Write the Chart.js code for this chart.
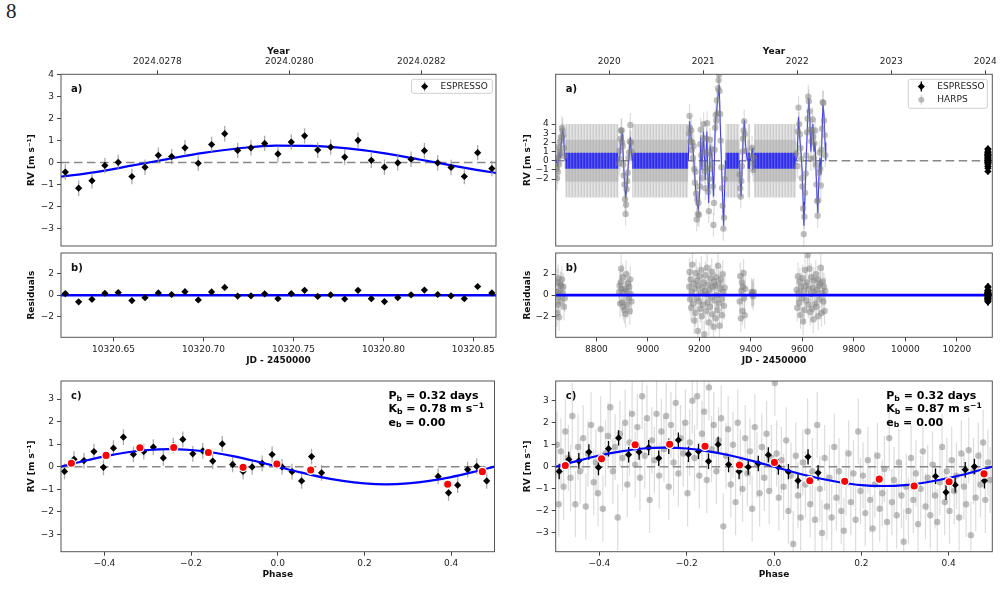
<!DOCTYPE html>
<html>
<head>
<meta charset="utf-8">
<script src="https://cdn.jsdelivr.net/npm/chart.js@4.4.1/dist/chart.umd.min.js"></script>
<style>
  html, body { margin: 0; padding: 0; background: #fff; }
  #page { position: relative; width: 1002px; height: 605px; overflow: hidden; background: #fff; }
  #page canvas { position: absolute; }
  #pageno { position: absolute; left: 6px; top: 1px; font: 21px/21px "Liberation Serif", serif; color: #222; }
</style>
</head>
<body>
<div id="page">
  <div id="pageno">8</div>
  <canvas id="la" width="500" height="210" style="left:0;top:40px"></canvas>
  <canvas id="lb" width="500" height="120" style="left:0;top:249px"></canvas>
  <canvas id="lc" width="500" height="215" style="left:0;top:370px"></canvas>
  <canvas id="ra" width="502" height="210" style="left:500px;top:40px"></canvas>
  <canvas id="rb" width="502" height="120" style="left:500px;top:249px"></canvas>
  <canvas id="rc" width="502" height="215" style="left:500px;top:370px"></canvas>
</div>
<script>
// ---------- ESPRESSO (one night) ----------
const espJD = [10320.6232, 10320.6306, 10320.6380, 10320.6452, 10320.6526, 10320.6602, 10320.6675,
  10320.6749, 10320.6823, 10320.6897, 10320.6971, 10320.7045, 10320.7118, 10320.7190, 10320.7264,
  10320.7340, 10320.7414, 10320.7488, 10320.7562, 10320.7635, 10320.7707, 10320.7785, 10320.7859,
  10320.7933, 10320.8006, 10320.8080, 10320.8154, 10320.8228, 10320.8302, 10320.8376, 10320.8450,
  10320.8524, 10320.8603];
const espRV = [-0.43, -1.16, -0.82, -0.13, 0.01, -0.63, -0.21, 0.33, 0.27, 0.67, -0.03, 0.82, 1.31,
  0.55, 0.67, 0.87, 0.39, 0.93, 1.21, 0.57, 0.70, 0.25, 1.01, 0.10, -0.21, -0.01, 0.15, 0.54, -0.01,
  -0.22, -0.63, 0.45, -0.27];
const espRes = [0.15, -0.63, -0.39, 0.18, 0.24, -0.51, -0.24, 0.21, 0.06, 0.33, -0.45, 0.30, 0.72,
  -0.09, -0.06, 0.12, -0.33, 0.15, 0.45, -0.12, 0.03, -0.36, 0.45, -0.33, -0.60, -0.24, 0.03, 0.48,
  0.06, -0.06, -0.33, 0.81, 0.21];
const espPhase = [0.370, 0.394, 0.415, 0.438, 0.459, 0.482, -0.492, -0.470, -0.447, -0.424, -0.402,
  -0.379, -0.356, -0.333, -0.309, -0.287, -0.264, -0.241, -0.219, -0.196, -0.173, -0.150, -0.128,
  -0.104, -0.080, -0.059, -0.036, -0.013, 0.010, 0.033, 0.055, 0.078, 0.101];
const espErr = 0.35;

// keplerian model over the ESPRESSO night
const modelJD = [10320.61, 10320.62, 10320.64, 10320.66, 10320.68, 10320.70, 10320.72, 10320.74,
  10320.76, 10320.78, 10320.80, 10320.82, 10320.84, 10320.86, 10320.87];
const modelRV = [-0.72, -0.64, -0.43, -0.14, 0.16, 0.44, 0.65, 0.77, 0.76, 0.64, 0.43, 0.14, -0.16, -0.44, -0.56];

// phase-folded model and binned points
const phaseGrid = [-0.5, -0.45, -0.4, -0.35, -0.3, -0.25, -0.2, -0.15, -0.1, -0.05, 0, 0.05, 0.1,
  0.15, 0.2, 0.25, 0.3, 0.35, 0.4, 0.45, 0.5];
const phaseModelL = [0, 0.24, 0.46, 0.63, 0.74, 0.78, 0.74, 0.63, 0.46, 0.24, 0, -0.24, -0.46, -0.63,
  -0.74, -0.78, -0.74, -0.63, -0.46, -0.24, 0];
const phaseModelR = [0, 0.27, 0.51, 0.70, 0.83, 0.87, 0.83, 0.70, 0.51, 0.27, 0, -0.27, -0.51, -0.70,
  -0.83, -0.87, -0.83, -0.70, -0.51, -0.27, 0];
const binPhaseL = [-0.476, -0.396, -0.318, -0.240, -0.160, -0.080, -0.002, 0.076, 0.392, 0.472];
const binRVL = [0.15, 0.50, 0.84, 0.85, 0.63, -0.03, 0.12, -0.15, -0.78, -0.22];
const binPhaseR = [-0.478, -0.395, -0.318, -0.239, -0.158, -0.079, 0.001, 0.082, 0.162, 0.241, 0.321, 0.401, 0.481];
const binRVR = [0.06, 0.36, 1.00, 1.02, 0.93, 0.08, 0.20, -0.63, -0.66, -0.56, -0.87, -0.68, -0.32];

// ---------- HARPS ----------
const harpsJD = [
  8646.2, 8647.1, 8649.0, 8650.3, 8652.1, 8653.4, 8655.2, 8657.0, 8659.3, 8661.1, 8663.2, 8666.4, 8669.1, 8671.3, 8674.2, 8677.0,
  8888.3, 8890.1, 8892.0, 8894.2, 8896.0, 8898.1, 8900.4, 8902.3, 8904.5, 8906.7, 8909.0, 8911.2, 8913.5, 8915.2, 8917.4, 8919.6,
  8922.0, 8924.8, 8927.3, 8929.6, 8931.8, 8934.0, 8936.5,
  9160.1, 9161.8, 9163.5, 9166.0, 9168.2, 9170.5, 9173.1, 9175.4, 9177.8, 9180.2, 9182.5, 9184.9, 9187.1, 9189.6, 9191.8, 9194.0,
  9196.3, 9198.7, 9200.9, 9203.2, 9205.4, 9207.6, 9209.9, 9212.1, 9214.4, 9216.6, 9218.9, 9221.1, 9223.3, 9225.6, 9227.8, 9230.1,
  9232.3, 9234.6, 9236.8, 9239.0, 9241.3, 9243.5, 9245.8, 9248.0, 9250.2, 9252.5, 9254.7, 9256.9, 9259.2, 9261.4, 9263.7, 9265.9,
  9268.1, 9270.4, 9272.6, 9274.8, 9276.5, 9278.3, 9280.5, 9283.0, 9285.6, 9288.1, 9290.7, 9293.2, 9295.8, 9298.4,
  9356.5, 9358.7, 9360.9, 9363.0, 9365.2, 9367.4, 9369.6, 9371.8, 9374.0, 9376.1, 9378.3, 9402.5, 9404.6, 9406.8, 9409.0, 9411.2,
  9577.5, 9580.2, 9582.9, 9585.1, 9587.6, 9590.2, 9592.8, 9595.3, 9597.9, 9600.4, 9603.0, 9605.5, 9607.9, 9610.4, 9612.9, 9615.4,
  9617.9, 9620.4, 9622.9, 9625.2, 9627.6, 9630.0, 9632.5, 9634.9, 9637.4, 9639.8, 9642.3, 9644.7, 9647.2, 9649.6, 9652.1, 9654.5,
  9657.0, 9659.4, 9661.9, 9664.3, 9666.8, 9669.2, 9671.7, 9674.1, 9676.6, 9679.0, 9681.5, 9683.9, 9686.4, 9688.8];
const harpsRV = [
  -0.8, -1.9, 0.4, -1.2, 1.5, 0.3, -0.4, 1.0, 2.1, 0.8, 2.6, 3.6, 3.3, 2.8, 1.4, 0.5,
  -0.3, 1.1, 0.2, 2.4, 3.3, 3.3, 2.0, 1.6, -0.4, -1.6, -2.6, -4.2, -5.8, -4.8, -3.1, -2.2, -1.3, 0.3, 0.9, 2.1, 3.9, 2.0, 1.0,
  3.0, 4.9, 3.6, 2.1, 3.3, 1.2, 2.0, 0.3, 1.6, -0.9, -2.4, -1.2, -3.6, -6.4, -4.2, -5.8, -4.6, -5.9, -2.8, 1.8,
  3.4, 0.6, -1.9, -0.3, 2.5, 4.0, 1.0, -1.2, -3.0, -0.8, 2.4, 4.1, 0.9, -3.4, -5.5, -2.0, 2.3, 0.7, -0.9, 1.3,
  -0.4, -2.8, -7.0, -4.6, 1.2, 3.6, 5.0, 4.4, 6.6, 5.2, 7.9, 8.8, 9.4, 7.6, 5.1, 2.2, -0.7, -3.0, -4.9, -7.4, -6.2, -2.0,
  -1.5, -3.0, -3.9, -2.2, -0.6, 1.0, 2.4, 3.3, 4.3, 2.9, 1.1, 0.5, 1.4, -0.3, -1.0, 0.3,
  0.8, -0.6, 3.2, 5.8, 4.0, 2.9, 1.4, 0.2, -1.9, -2.8, -5.2, -8.0, -6.1, -3.5, -1.4, 0.6, 3.1, 4.6, 7.0, 6.5,
  5.4, 3.4, 0.2, 2.1, 3.3, 4.5, 2.6, 0.3, 1.9, 3.3, -0.4, -2.6, -4.4, -6.0, -4.3, -1.3, 0.9, -0.9, -2.7, 1.2,
  3.5, 6.4, 6.3, 4.4, 2.8, 0.6];
const harpsRes = [
  0.3, -1.7, 1.2, -0.9, 1.6, -0.2, -2.1, 0.4, 1.0, -0.6, 0.9, 1.5, 0.2, 0.8, -1.1, -0.3,
  0.3, 0.9, -0.8, 1.2, 2.5, 0.6, -0.7, 1.7, -1.1, 0.3, -1.4, 0.6, -1.8, 2.0, 0.4, -0.9, 1.1, -0.3, 0.8, -1.5, 1.5, 0.1, -0.6,
  0.8, 2.2, -0.4, 1.5, -1.2, 0.3, 2.9, -0.8, 1.1, -2.4, 0.6, -1.7, 2.1, -0.3, 1.4, -3.4, 0.9, -0.6, 1.8, -1.3,
  0.2, 2.4, -2.0, 0.7, -0.9, 1.2, -3.7, 0.4, 1.9, -1.5, 0.1, 2.6, -0.7, 1.0, -2.6, 0.5, -1.1, 1.6, -0.2, 2.2,
  -1.8, 0.8, -3.0, 1.3, -0.5, 0.9, -2.2, 1.7, 0.0, -1.4, 2.8, -0.8, 1.1, -2.9, 0.6, 1.5, -0.4, -1.9, 2.0, 0.3, -1.0, 0.7,
  -0.6, 1.8, -2.2, 0.4, 1.2, -1.5, 0.8, 2.1, -0.3, -1.9, 0.6, 0.3, 0.1, 0.2, -0.1, 0.3,
  0.5, -1.2, 1.8, 0.2, -0.7, 1.3, -1.9, 0.8, -0.3, 1.6, -2.5, 0.4, -1.4, 2.4, 0.9, -0.5, 1.2, 3.8, -0.9, 0.6,
  2.5, -1.6, 0.1, 1.7, -1.3, 0.7, -2.3, 1.4, 0.3, -0.8, 2.0, -1.1, 0.5, 1.5, -2.0, 0.9, -0.4, 1.1, 2.6, -1.7,
  0.2, 1.3, -0.6, 0.8, -1.5, 0.4];
const harpsErr = 1.3;

// GP + planet model inside the HARPS seasons (null = break)
const gpJD = [8643, 8647, 8650, 8653, 8656, 8659, 8662, 8665, 8668, 8670, 8672, 8674, 8676, 8679, 8700,
  8886, 8891, 8896, 8900, 8903, 8907, 8911, 8914, 8919, 8923, 8927, 8932, 8935, 8939, 9000,
  9157, 9162, 9168, 9176, 9183, 9190, 9196, 9201, 9205, 9210, 9216, 9223, 9229, 9236, 9242, 9249,
  9255, 9262, 9268, 9274, 9277, 9281, 9288, 9294, 9301, 9330,
  9356, 9358, 9362, 9366, 9370, 9375, 9380, 9386, 9390, 9398, 9402, 9405, 9408, 9412, 9500,
  9575, 9580, 9585, 9590, 9595, 9599, 9603, 9606, 9610, 9614, 9618, 9622, 9625, 9629, 9633, 9637,
  9641, 9645, 9649, 9653, 9657, 9660, 9664, 9668, 9672, 9676, 9680, 9684, 9688, 9691];
const gpRV = [0.2, -0.3, -0.6, 0.2, 0.7, 0.4, 1.5, 2.2, 3.2, 3.4, 2.8, 1.9, 0.9, 0.0, null,
  0.0, 0.5, 2.2, 2.9, 1.4, -1.1, -3.0, -3.9, -2.8, -0.8, 0.6, 2.6, 1.2, 0.0, null,
  0.0, 4.3, 2.5, 1.1, -2.1, -4.6, -5.3, -3.5, 2.5, -1.0, 3.2, -2.1, 3.2, -4.6, 1.5, 0.4,
  -3.9, 4.3, 5.7, 7.5, 8.3, 4.0, -2.1, -7.1, 0.0, null,
  0.0, -1.9, -3.9, -0.8, 2.5, 4.4, 1.5, 0.0, null, 0.0, 0.6, 1.4, -1.0, 0.0, null,
  0.0, 0.5, 4.8, 2.5, 0.8, -1.0, -4.5, -7.1, -4.0, -0.5, 2.5, 5.5, 6.8, 4.5, 1.0, 3.0,
  4.0, 1.0, 2.0, -1.0, -4.0, -5.7, -2.0, 0.3, -1.5, 2.5, 6.1, 5.0, 2.0, 0.0];
// stretches without data: model band and its uncertainty
const gapStart = [8679, 8939, 9301, 9386, 9412];
const gapEnd = [8886, 9157, 9356, 9398, 9575];
const bandOuter = 4.0, bandInner = 2.3, bandK = 0.87;

// HARPS phase-folded
const harpsPh = [
  -0.497, -0.493, -0.488, -0.482, -0.478, -0.471, -0.466, -0.462, -0.455, -0.449, -0.444, -0.437, -0.431, -0.426, -0.419, -0.413, -0.408, -0.403,
  -0.397, -0.392, -0.386, -0.380, -0.375, -0.369, -0.364, -0.358, -0.353, -0.347, -0.341, -0.336, -0.331, -0.325, -0.318, -0.313, -0.307, -0.302,
  -0.296, -0.291, -0.285, -0.280, -0.274, -0.269, -0.263, -0.258, -0.252, -0.247, -0.241, -0.236, -0.230, -0.225, -0.219, -0.214, -0.208, -0.203,
  -0.198, -0.193, -0.187, -0.182, -0.176, -0.171, -0.165, -0.160, -0.154, -0.149, -0.143, -0.138, -0.132, -0.127, -0.121, -0.116, -0.110, -0.105,
  -0.099, -0.094, -0.088, -0.083, -0.077, -0.072, -0.066, -0.061, -0.055, -0.050, -0.044, -0.039, -0.033, -0.028, -0.022, -0.017, -0.011, -0.006,
  0.002, 0.006, 0.011, 0.017, 0.022, 0.028, 0.033, 0.039, 0.044, 0.050, 0.055, 0.061, 0.066, 0.072, 0.077, 0.083, 0.088, 0.094, 0.099,
  0.105, 0.110, 0.116, 0.121, 0.127, 0.132, 0.138, 0.143, 0.149, 0.154, 0.160, 0.165, 0.171, 0.176, 0.182, 0.187, 0.193, 0.198,
  0.204, 0.209, 0.215, 0.220, 0.226, 0.231, 0.237, 0.242, 0.248, 0.253, 0.259, 0.264, 0.270, 0.275, 0.281, 0.286, 0.292, 0.297,
  0.303, 0.308, 0.314, 0.319, 0.325, 0.330, 0.336, 0.341, 0.347, 0.352, 0.358, 0.363, 0.369, 0.374, 0.380, 0.385, 0.391, 0.396,
  0.402, 0.407, 0.413, 0.418, 0.424, 0.429, 0.435, 0.440, 0.446, 0.451, 0.457, 0.462, 0.468, 0.473, 0.479, 0.484, 0.490, 0.495];
const harpsPhRV = [
  1.0, -1.7, 0.7, -0.9, 1.6, 0.4, -0.5, 2.3, -1.7, 0.9, -0.2, 1.3, -1.8, 0.6, 1.9, -0.7, 0.2, -1.2,
  1.7, -1.9, 0.6, 1.4, 2.7, -0.2, 0.9, -2.3, 1.5, 0.4, 2.0, -0.8, 1.1, 2.4, 0.1, 1.8, -0.5, 3.2,
  0.5, 2.2, -1.5, 1.2, 0.3, 2.4, -0.4, 1.6, 0.8, 2.3, -0.9, 1.9, 0.2, 2.9, -0.3, 1.3, 0.6, 2.0,
  -1.2, 1.1, 3.0, 0.4, 3.2, -0.4, 1.5, 2.5, -0.6, 3.6, 0.8, 1.9, -0.2, 1.2, 2.2, -2.7, 0.5, 1.7,
  -0.8, 1.0, -1.6, 2.0, 0.2, -1.0, 1.3, -0.3, 0.7, -1.9, 1.8, 0.1, -1.2, 0.9, -0.5, 1.5, -1.1, 0.4,
  3.8, 0.6, -1.4, 0.3, -0.9, 1.2, -2.0, -0.4, -3.5, 0.5, -1.3, -2.3, 0.2, -0.8, 1.6, -1.7, -0.2, -2.4, 1.9,
  -1.0, -3.0, 0.4, -1.8, -0.5, -2.3, 0.9, -1.4, -0.2, -2.0, -2.9, -0.7, 0.6, -1.6, -0.3, -2.4, 1.6, -1.1,
  -0.4, -2.1, 0.3, -1.5, -2.8, -0.8, 0.5, -1.9, -1.2, -0.1, -2.5, 1.3, -1.6, -0.6, -2.2, 0.2, -1.3, -3.4,
  -0.9, -2.0, 0.4, -1.5, -0.3, -2.6, -1.0, 0.7, -1.8, -0.5, -2.2, 0.1, -1.3, -2.5, -0.7, 0.9, -1.6, -0.2,
  -2.0, 0.3, -1.1, -0.4, -2.3, 0.6, -0.9, -1.7, 0.75, -3.1, -0.2, -1.4, 0.5, -0.8, 1.1, -1.5, 0.2, -0.6];
const harpsPhErr = 1.5;

// ---------- axes ----------
const jdRangeL = [10320.6208, 10320.8626];
const yearRangeL = [2024.027654, 2024.028313];
const jdRangeR = [8642, 10337.7];
const yearRangeR = [2019.4315, 2024.0743];
const yearTicksL = [2024.0278, 2024.0280, 2024.0282];
const yearTicksR = [2020, 2021, 2022, 2023, 2024];
const jdTicksL = [10320.65, 10320.70, 10320.75, 10320.80, 10320.85];
const jdTicksR = [8800, 9000, 9200, 9400, 9600, 9800, 10000, 10200];
const phaseTicks = [-0.4, -0.2, 0, 0.2, 0.4];
const infoL = ['0.32', '0.78', '0.00'];
const infoR = ['0.32', '0.87', '0.00'];

Chart.defaults.font.family = '"DejaVu Sans", sans-serif';
Chart.defaults.font.size = 9;
Chart.defaults.color = '#222';

const pts = (xs, ys) => xs.map((x, i) => ({ x, y: ys[i] }));
const minus = s => String(s).replace('-', '\u2212');
const RV = 'RV [m s\u207B\u00B9]';

const gridOpt = { drawOnChartArea: false, drawTicks: true, tickLength: 4, color: '#444', tickColor: '#444' };
const titleFont = { size: 9, weight: 'bold' };

function yLeft(min, max, ticks, title, w, tpad) {
  return {
    type: 'linear', position: 'left', min, max,
    afterBuildTicks: s => { s.ticks = ticks.map(v => ({ value: v })); },
    afterFit: s => { s.width = w; s.paddingTop = 0; s.paddingBottom = 0; },
    ticks: { autoSkip: false, padding: 3, callback: v => minus(v) },
    grid: gridOpt, border: { display: false },
    title: { display: true, text: title, font: titleFont, color: '#111', padding: { top: tpad, bottom: 0 } }
  };
}
function xBottom(range, ticks, fmt, title, h, tpad) {
  return {
    type: 'linear', position: 'bottom', min: range[0], max: range[1],
    afterBuildTicks: s => { s.ticks = ticks.map(v => ({ value: v })); },
    afterFit: s => { s.height = h; s.paddingLeft = 0; s.paddingRight = 0; },
    ticks: { autoSkip: false, maxRotation: 0, padding: 3, callback: v => minus(fmt(v)) },
    grid: gridOpt, border: { display: false },
    title: { display: true, text: title, font: titleFont, color: '#111', padding: { top: 0, bottom: tpad } }
  };
}
function xTop(range, ticks, fmt) {
  return {
    type: 'linear', position: 'top', axis: 'x', min: range[0], max: range[1],
    afterBuildTicks: s => { s.ticks = ticks.map(v => ({ value: v })); },
    afterFit: s => { s.height = 34.3; s.paddingLeft = 0; s.paddingRight = 0; },
    ticks: { autoSkip: false, maxRotation: 0, padding: 3, callback: v => fmt(v) },
    grid: gridOpt, border: { display: false },
    title: { display: true, text: 'Year', font: titleFont, color: '#111', padding: { top: 6.3, bottom: 0 } }
  };
}
const xHidden = range => ({ type: 'linear', display: false, min: range[0], max: range[1] });

// ---------- dataset builders ----------
const zeroDash = range => ({ type: 'line', data: pts(range, [0, 0]), borderColor: '#888', borderWidth: 1.5,
  borderDash: [8.5, 4.5], pointRadius: 0 });
const zeroBlue = (range, w) => ({ type: 'line', data: pts(range, [0, 0]), borderColor: '#0000ff', borderWidth: w, pointRadius: 0 });
const curve = (xs, ys, w) => ({ type: 'line', data: pts(xs, ys), borderColor: '#0000ff', borderWidth: w,
  pointRadius: 0, cubicInterpolationMode: 'monotone' });
const espSet = (xs, ys, errCol) => ({ data: pts(xs, ys), pointStyle: 'rectRot', pointRadius: 3.6,
  pointBackgroundColor: '#000', pointBorderWidth: 0, err: errCol ? espErr : null, errColor: errCol, errWidth: 1.3 });
const harpsSet = (xs, ys, err) => ({ data: pts(xs, ys), pointStyle: 'circle', pointRadius: 3.2,
  pointBackgroundColor: 'rgba(128,128,128,0.5)', pointBorderWidth: 0,
  err, errColor: 'rgba(140,140,140,0.3)', errWidth: 1.2 });
const binSet = (xs, ys) => ({ data: pts(xs, ys), pointStyle: 'circle', pointRadius: 4.2,
  pointBackgroundColor: '#ff0000', pointBorderColor: '#ffffff', pointBorderWidth: 1.3 });

function bandData(level) {
  const out = [];
  gapStart.forEach((s, i) => {
    out.push({ x: s, y: level }, { x: gapEnd[i], y: level });
    const next = i + 1 < gapStart.length ? gapStart[i + 1] : gapEnd[i] + 10;
    out.push({ x: (gapEnd[i] + next) / 2, y: null });
  });
  return out;
}
function stripes(id, cols) {
  const c = document.createElement('canvas');
  c.width = cols.length; c.height = 1;
  const g = c.getContext('2d');
  cols.forEach((col, i) => { g.fillStyle = col; g.fillRect(i, 0, 1, 1); });
  return document.getElementById(id).getContext('2d').createPattern(c, 'repeat');
}
const bandPair = (level, fillStyle) => [
  { type: 'line', data: bandData(level), borderWidth: 0, pointRadius: 0, fill: '+1', backgroundColor: fillStyle },
  { type: 'line', data: bandData(-level), borderWidth: 0, pointRadius: 0 }
];

// ---------- plugins ----------
const errorBars = {
  id: 'errorBars',
  beforeDatasetDraw(chart, args) {
    const ds = chart.data.datasets[args.index];
    if (ds.err == null) return;
    const xs = chart.scales[args.meta.xAxisID], ys = chart.scales[args.meta.yAxisID];
    const { ctx, chartArea: a } = chart;
    ctx.save();
    ctx.beginPath(); ctx.rect(a.left, a.top, a.right - a.left, a.bottom - a.top); ctx.clip();
    ctx.strokeStyle = ds.errColor; ctx.lineWidth = ds.errWidth;
    ds.data.forEach(p => {
      if (p.y == null) return;
      const x = xs.getPixelForValue(p.x);
      ctx.beginPath();
      ctx.moveTo(x, ys.getPixelForValue(p.y - ds.err));
      ctx.lineTo(x, ys.getPixelForValue(p.y + ds.err));
      ctx.stroke();
    });
    ctx.restore();
  }
};

function diamond(ctx, x, y, r) {
  ctx.beginPath(); ctx.moveTo(x, y - r); ctx.lineTo(x + r, y); ctx.lineTo(x, y + r); ctx.lineTo(x - r, y);
  ctx.closePath(); ctx.fill();
}
function drawLegend(ctx, a, L) {
  const x0 = a.right - L.dx - L.w, y0 = a.top + L.dy;
  ctx.fillStyle = 'rgba(255,255,255,0.85)'; ctx.strokeStyle = '#cfcfcf'; ctx.lineWidth = 1;
  ctx.beginPath(); ctx.roundRect(x0, y0, L.w, L.h, 2); ctx.fill(); ctx.stroke();
  L.items.forEach((it, i) => {
    const cy = y0 + 7.2 + i * 13.3, cx = x0 + 13;
    if (it[1] === 'esp') {
      ctx.strokeStyle = L.espErr; ctx.lineWidth = 1.3;
      ctx.beginPath(); ctx.moveTo(cx, cy - 5); ctx.lineTo(cx, cy + 5); ctx.stroke();
      ctx.fillStyle = '#000'; diamond(ctx, cx, cy, 3.6);
    } else {
      ctx.strokeStyle = 'rgba(140,140,140,0.35)'; ctx.lineWidth = 1.2;
      ctx.beginPath(); ctx.moveTo(cx, cy - 5); ctx.lineTo(cx, cy + 5); ctx.stroke();
      ctx.fillStyle = 'rgba(128,128,128,0.5)';
      ctx.beginPath(); ctx.arc(cx, cy, 3, 0, Math.PI * 2); ctx.fill();
    }
    ctx.fillStyle = '#222'; ctx.font = '9px "DejaVu Sans"'; ctx.textBaseline = 'middle';
    ctx.fillText(it[0], x0 + 29, cy);
  });
}
function richWidth(ctx, segs, size) {
  let w = 0;
  segs.forEach(s => { ctx.font = `bold ${s.sub || s.sup ? size * 0.7 : size}px "DejaVu Sans"`; w += ctx.measureText(s.t).width; });
  return w;
}
function drawRich(ctx, segs, x, y, size) {
  segs.forEach(s => {
    const small = s.sub || s.sup;
    ctx.font = `bold ${small ? size * 0.7 : size}px "DejaVu Sans"`;
    ctx.fillText(s.t, x, y + (s.sub ? size * 0.22 : s.sup ? -size * 0.33 : 0));
    x += ctx.measureText(s.t).width;
  });
}
function drawInfo(ctx, a, v) {
  const lines = [
    [{ t: 'P' }, { t: 'b', sub: 1 }, { t: ' = ' + v[0] + ' days' }],
    [{ t: 'K' }, { t: 'b', sub: 1 }, { t: ' = ' + v[1] + ' m s' }, { t: '\u22121', sup: 1 }],
    [{ t: 'e' }, { t: 'b', sub: 1 }, { t: ' = ' + v[2] }]
  ];
  const size = 11;
  const w = Math.max(...lines.map(l => richWidth(ctx, l, size)));
  ctx.fillStyle = '#000'; ctx.textBaseline = 'middle';
  lines.forEach((l, i) => drawRich(ctx, l, a.right - 10.5 - w, a.top + 15.3 + i * 13.2, size));
}

const decor = {
  la: { tag: 'a)', legend: { w: 80.7, h: 14, dx: 3.7, dy: 5, espErr: 'rgba(150,150,150,0.8)', items: [['ESPRESSO', 'esp']] } },
  lb: { tag: 'b)' },
  lc: { tag: 'c)', info: infoL },
  ra: { tag: 'a)', legend: { w: 79, h: 29, dx: 5, dy: 5, espErr: '#000', items: [['ESPRESSO', 'esp'], ['HARPS', 'harps']] } },
  rb: { tag: 'b)' },
  rc: { tag: 'c)', info: infoR }
};
const panelDecor = {
  id: 'panelDecor',
  afterDatasetsDraw(chart) {
    const o = decor[chart.canvas.id];
    const { ctx, chartArea: a } = chart;
    ctx.save();
    ctx.strokeStyle = '#555'; ctx.lineWidth = 1;
    ctx.strokeRect(a.left, a.top, a.right - a.left, a.bottom - a.top);
    ctx.fillStyle = '#111'; ctx.textBaseline = 'middle'; ctx.textAlign = 'left';
    ctx.font = 'bold 10px "DejaVu Sans"';
    ctx.fillText(o.tag, a.left + 10, a.top + 15);
    if (o.legend) drawLegend(ctx, a, o.legend);
    if (o.info) drawInfo(ctx, a, o.info);
    ctx.restore();
  }
};
Chart.register(errorBars, panelDecor);

function make(id, datasets, scales, padding) {
  datasets.forEach((d, i) => { d.order = datasets.length - i; });   // first in list = drawn first
  return new Chart(document.getElementById(id), {
    type: 'scatter',
    data: { datasets },
    options: {
      responsive: false, animation: false, events: [], devicePixelRatio: 1,
      layout: { padding },
      plugins: { legend: { display: false }, tooltip: { enabled: false } },
      scales
    }
  });
}

// ---------- left column: ESPRESSO only ----------
make('la', [
  zeroDash(jdRangeL),
  curve(modelJD, modelRV, 2.2),
  espSet(espJD, espRV, 'rgba(150,150,150,0.8)')
], {
  x: xHidden(jdRangeL),
  xTop: xTop(yearRangeL, yearTicksL, v => v.toFixed(4)),
  y: yLeft(-3.78, 4, [-3, -2, -1, 0, 1, 2, 3, 4], RV, 61, 26.3)
}, { left: 0, top: 0, right: 2.3, bottom: 0.7 });

make('lb', [
  zeroBlue(jdRangeL, 2.5),
  espSet(espJD, espRes, null)
], {
  x: xBottom(jdRangeL, jdTicksL, v => v.toFixed(2), 'JD - 2450000', 31.7, 3.3),
  y: yLeft(-3.95, 3.95, [-2, 0, 2], 'Residuals', 61, 26.3)
}, { left: 0, top: 0.3, right: 2.3, bottom: 0 });

make('lc', [
  zeroDash([-0.5, 0.5]),
  espSet(espPhase, espRV, 'rgba(150,150,150,0.8)'),
  curve(phaseGrid, phaseModelL, 2.2),
  binSet(binPhaseL, binRVL)
], {
  x: xBottom([-0.5, 0.5], phaseTicks, v => v.toFixed(1), 'Phase', 33.3, 4.6),
  y: yLeft(-3.77, 3.8, [-3, -2, -1, 0, 1, 2, 3], RV, 61, 26.3)
}, { left: 0, top: 11, right: 2.3, bottom: 0 });

// ---------- right column: HARPS + ESPRESSO ----------
make('ra', [
  zeroDash(jdRangeR),
  ...bandPair(bandOuter, stripes('ra', ['#cdcdcd', '#e3e3e3', '#dadada'])),
  ...bandPair(bandInner, stripes('ra', ['#bababa', '#c6c6c6', '#c0c0c0'])),
  ...bandPair(bandK, stripes('ra', ['#2d2df2', '#5a5ae6', '#3c3cee'])),
  { type: 'line', data: pts(gpJD, gpRV), borderColor: 'rgba(20,20,255,0.9)', borderWidth: 1.1, pointRadius: 0 },
  harpsSet(harpsJD, harpsRV, harpsErr),
  espSet(espJD, espRV, '#000')
], {
  x: xHidden(jdRangeR),
  xTop: xTop(yearRangeR, yearTicksR, v => String(v)),
  y: yLeft(-9.3, 9.43, [-2, -1, 0, 1, 2, 3, 4], RV, 55.7, 21.9)
}, { left: 0, top: 0, right: 9.7, bottom: 0.7 });

make('rb', [
  harpsSet(harpsJD, harpsRes, harpsErr),
  zeroBlue(jdRangeR, 2.8),
  espSet(espJD, espRes, '#000')
], {
  x: xBottom(jdRangeR, jdTicksR, v => String(v), 'JD - 2450000', 31.7, 3.3),
  y: yLeft(-4, 4, [-2, 0, 2], 'Residuals', 55.7, 21.9)
}, { left: 0, top: 0.3, right: 9.7, bottom: 0 });

make('rc', [
  harpsSet(harpsPh, harpsPhRV, harpsPhErr),
  zeroDash([-0.5, 0.5]),
  espSet(espPhase, espRV, '#000'),
  curve(phaseGrid, phaseModelR, 2.2),
  binSet(binPhaseR, binRVR)
], {
  x: xBottom([-0.5, 0.5], phaseTicks, v => v.toFixed(1), 'Phase', 33.3, 4.6),
  y: yLeft(-3.85, 3.89, [-3, -2, -1, 0, 1, 2, 3], RV, 55.7, 21.9)
}, { left: 0, top: 11, right: 9.7, bottom: 0 });
</script>
</body>
</html>
